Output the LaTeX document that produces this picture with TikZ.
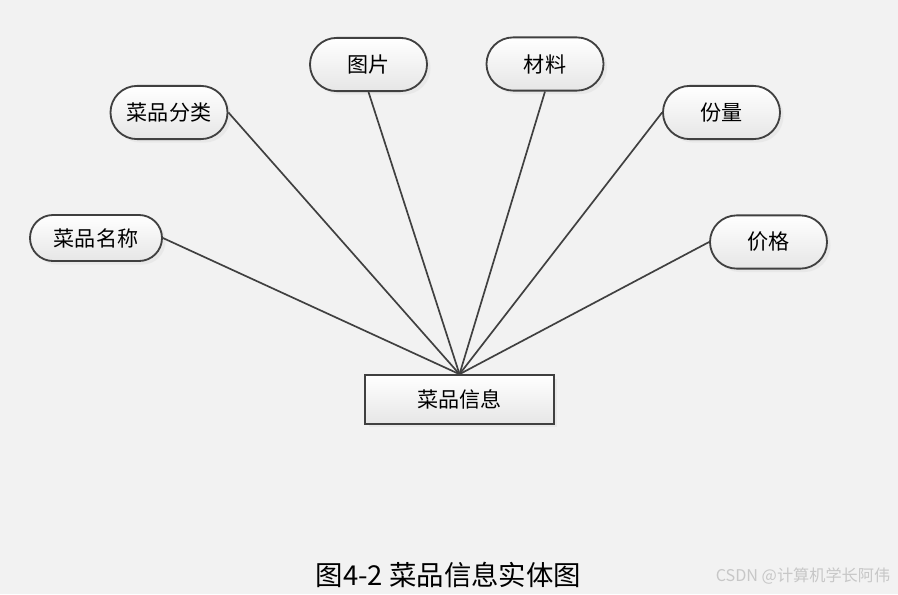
\documentclass[tikz,border=0pt]{standalone}
\usepackage{fontspec}
\newfontfamily\cjk{Noto Sans CJK SC}
\usetikzlibrary{shapes.misc,shadows,positioning}
\definecolor{bgcol}{HTML}{F2F2F2}
\definecolor{linecol}{HTML}{404040}
\definecolor{shadecol}{HTML}{E6E6E6}

\begin{document}
\begin{tikzpicture}[x=0.025cm,y=-0.025cm,
    attr/.style={rounded rectangle, draw=linecol, line width=1.3pt, top color=white, bottom color=shadecol,
      drop shadow={fill=black!12, shadow xshift=2.5pt, shadow yshift=-2.5pt},
      minimum width=2.925cm, minimum height=1.33cm, inner sep=0pt, font=\cjk\fontsize{15}{18}\selectfont},
    entity/.style={rectangle, draw=linecol, line width=1.3pt, top color=white, bottom color=shadecol,
      drop shadow={fill=black!12, shadow xshift=2.5pt, shadow yshift=-2.5pt},
      minimum width=4.72cm, minimum height=1.22cm, inner sep=0pt, font=\cjk\fontsize{15}{18}\selectfont},
    link/.style={draw=linecol, line width=1.2pt}]
  \fill[bgcol] (0,0) rectangle (898,594);
  \useasboundingbox (0,0) rectangle (898,594);

  % entity and attributes
  \node[entity] (info) at (459.5,399.5) {菜品信息};
  \node[attr, minimum width=3.3cm, minimum height=1.15cm] (name) at (96,238) {菜品名称};
  \node[attr] (kind) at (169,112.5) {菜品分类};
  \node[attr] (pic) at (368.5,64.5) {图片};
  \node[attr] (stuff) at (545,64) {材料};
  \node[attr] (amount) at (721.5,112.5) {份量};
  \node[attr] (price) at (768.5,242) {价格};

  % links
  \draw[link] (info.north) -- (name.east);
  \draw[link] (info.north) -- (kind.east);
  \draw[link] (info.north) -- (pic.south);
  \draw[link] (info.north) -- (stuff.south);
  \draw[link] (info.north) -- (amount.west);
  \draw[link] (info.north) -- (price.west);

  \node[font=\cjk\fontsize{19.5}{22}\selectfont] (cap) at (448.5,575) {图4-2\ 菜品信息实体图};
  \node[font=\cjk\fontsize{11.5}{13}\selectfont, text=black!22] (mark) at (803,576) {CSDN @计算机学长阿伟};
\end{tikzpicture}
\end{document}
